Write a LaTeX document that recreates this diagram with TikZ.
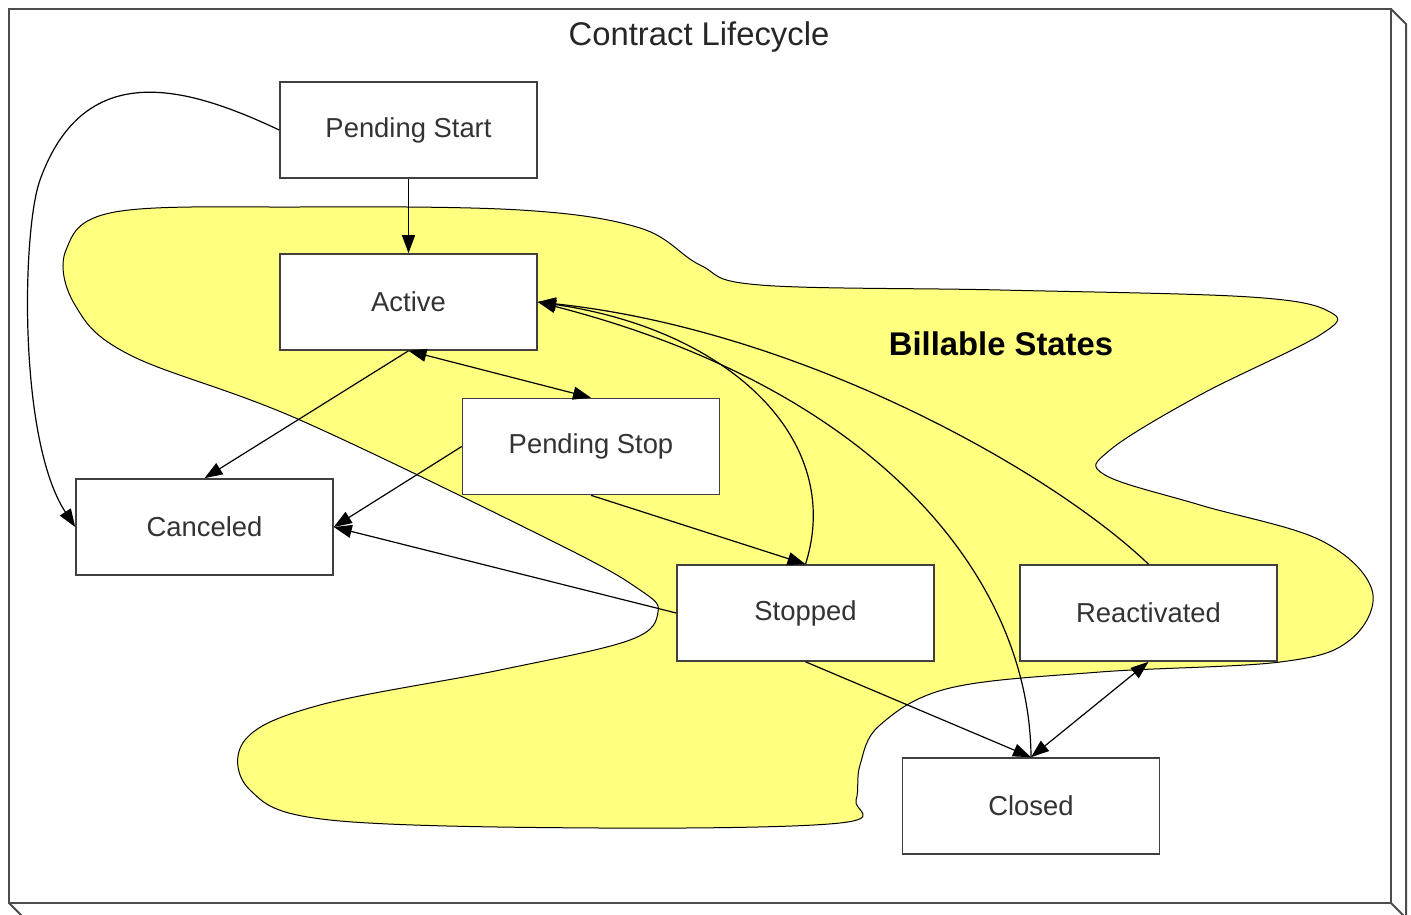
\documentclass[tikz,border=0pt]{standalone}
\usepackage{fontspec}
\setmainfont{Liberation Sans}
\usetikzlibrary{arrows.meta}

\definecolor{billable}{RGB}{255,255,128}

\begin{document}
\begin{tikzpicture}[x=0.5pt,y=-0.5pt,
  state node/.style={rectangle,draw=black!75,line width=0.8pt,fill=white,
    minimum width=128.5pt,minimum height=48pt,inner sep=0pt,
    font=\fontsize{13.7}{16}\selectfont,text=black!80},
  trans/.style={-{Triangle[length=9pt,width=6.5pt]},line width=0.6pt},
  both ways/.style={{Triangle[length=9pt,width=6.5pt]}-{Triangle[length=9pt,width=6.5pt]},line width=0.6pt}]
  \useasboundingbox (0,0) rectangle (1411,914);

  % frame
  \draw[black!70,line width=1pt] (9,9) rectangle (1391,903);
  \draw[black!70,line width=1pt] (1391,9) -- (1406,24) -- (1406,930);
  \draw[black!70,line width=1pt] (9,903) -- (25,919);
  \draw[black!70,line width=1pt] (1391,903) -- (1407,919);
  \node[font=\fontsize{16.4}{19}\selectfont,text=black!85] (title) at (699,37) {Contract Lifecycle};

  % billable region
  \draw[fill=billable,line width=0.5pt] plot[smooth cycle,tension=0.6] coordinates {
    (115,212) (300,207) (520,210) (640,228) (700,265) (760,285) (1000,290)
    (1250,297) (1330,312) (1320,335) (1200,395) (1110,450) (1105,475)
    (1200,505) (1320,540) (1372,590) (1350,640) (1280,662) (1100,672)
    (950,688) (880,725) (860,765) (856,800) (840,823) (600,828) (330,820)
    (250,790) (245,740) (320,705) (500,670) (630,640) (658,612) (640,590)
    (560,545) (300,420) (130,355) (75,305) (66,250)};
  \node[font=\bfseries\fontsize{16.4}{19}\selectfont] (bill) at (1001,344) {Billable States};

  % states
  \node[state node] (start) at (408.5,130) {Pending Start};
  \node[state node] (active) at (408.5,302) {Active};
  \node[state node] (pstop) at (591,446.5) {Pending Stop};
  \node[state node] (cancel) at (204.5,527) {Canceled};
  \node[state node] (stopped) at (805.5,613) {Stopped};
  \node[state node] (react) at (1148.5,613) {Reactivated};
  \node[state node] (closed) at (1031,806) {Closed};

  \path[trans]
    (start) edge (active)
    (active.south) edge (cancel.north)
    (pstop.west) edge (cancel.east)
    (stopped.west) edge (cancel.east)
    (pstop.south) edge (stopped.north)
    (stopped.south) edge (closed.north);
  \path[both ways]
    (active.south) edge (pstop.north)
    (closed.north) edge (react.south);

  \draw[trans] (start.west) .. controls (190,88) and (85,55) .. (40,180)
    .. controls (22,230) and (18,440) .. (cancel.west);
  \draw[trans] (stopped.north) .. controls (845,440) and (730,330) .. (active.east);
  \draw[trans] (closed.north) .. controls (1030,580) and (880,390) .. (active.east);
  \draw[trans] (react.north) .. controls (1050,470) and (800,330) .. (active.east);
\end{tikzpicture}
\end{document}
